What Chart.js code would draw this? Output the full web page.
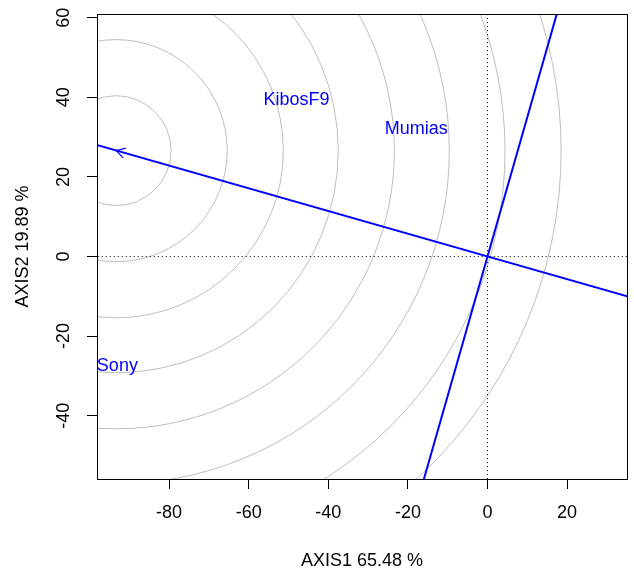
<!DOCTYPE html>
<html><head><meta charset="utf-8">
<script src="https://cdn.jsdelivr.net/npm/chart.js@4.4.0/dist/chart.umd.min.js"></script>
<style>html,body{margin:0;padding:0;background:#fff;}canvas{display:block;}</style>
</head><body>
<canvas id="c" width="634" height="570" style="width:634px;height:570px"></canvas>
<script>
// ---- data ----
const xTickValues = [-80, -60, -40, -20, 0, 20];
const yTickValues = [-40, -20, 0, 20, 40, 60];
const xTitle = 'AXIS1 65.48 %';
const yTitle = 'AXIS2 19.89 %';
const genotypeNames = ['KibosF9', 'Mumias', 'Sony'];
const genotypeX = [-48.0, -17.9, -93.0];
const genotypeY = [39.4, 32.1, -27.4];
const idealX = -93.3;
const idealY = 26.6;
const circleRadii = [13.8, 27.9, 42.0, 55.8, 69.9, 83.7, 97.7, 111.8];
const aeaX = [-110, 40];
const aeaY = [31.4, -11.4];
const ataX = [-20, 20];
const ataY = [-70, 70];
const zeroHX = [-110, 40], zeroHY = [0, 0];
const zeroVX = [0, 0], zeroVY = [-70, 70];

const pts = (xs, ys) => xs.map((x, i) => ({x, y: ys[i]}));
const FONT = "'Liberation Sans', Arial, Helvetica, sans-serif";
Chart.defaults.font.family = FONT;
Chart.defaults.font.size = 18;
Chart.defaults.color = '#000';

const biplotPlugin = {
  id: 'biplot',
  beforeDatasetsDraw(chart) {
    const {ctx, chartArea: a, scales: {x, y}} = chart;
    ctx.save();
    ctx.beginPath();
    ctx.rect(a.left, a.top, a.right - a.left, a.bottom - a.top);
    ctx.clip();
    ctx.strokeStyle = '#BEBEBE';
    ctx.lineWidth = 1;
    const cx = x.getPixelForValue(idealX), cy = y.getPixelForValue(idealY);
    circleRadii.forEach(r => {
      const rp = x.getPixelForValue(idealX + r) - cx;
      ctx.beginPath();
      ctx.arc(cx, cy, rp, 0, Math.PI * 2);
      ctx.stroke();
    });
    ctx.restore();
  },
  afterDatasetsDraw(chart) {
    const {ctx, chartArea: a, scales: {x, y}} = chart;
    ctx.save();
    // arrow head at ideal point
    const tx = x.getPixelForValue(idealX), ty = y.getPixelForValue(idealY);
    const ox = x.getPixelForValue(0), oy = y.getPixelForValue(0);
    const ang = Math.atan2(ty - oy, tx - ox);
    const L = 10, spread = Math.PI / 6;
    ctx.strokeStyle = '#0000FF';
    ctx.lineWidth = 1.2;
    ctx.beginPath();
    ctx.moveTo(tx - L * Math.cos(ang - spread), ty - L * Math.sin(ang - spread));
    ctx.lineTo(tx, ty);
    ctx.lineTo(tx - L * Math.cos(ang + spread), ty - L * Math.sin(ang + spread));
    ctx.stroke();
    // labels
    ctx.fillStyle = '#0000FF';
    ctx.font = '18px ' + FONT;
    ctx.textAlign = 'center';
    ctx.textBaseline = 'middle';
    genotypeNames.forEach((n, i) => {
      ctx.fillText(n, x.getPixelForValue(genotypeX[i]), y.getPixelForValue(genotypeY[i]));
    });
    ctx.restore();
  },
  afterDraw(chart) {
    const {ctx, chartArea: a} = chart;
    ctx.save();
    ctx.strokeStyle = '#000';
    ctx.lineWidth = 1;
    ctx.strokeRect(a.left + 0.5, a.top + 0.5, a.right - a.left, a.bottom - a.top);
    ctx.restore();
  }
};

new Chart(document.getElementById('c'), {
  type: 'scatter',
  data: {
    datasets: [
      {data: pts(aeaX, aeaY), showLine: true, borderColor: '#0000FF', borderWidth: 2, pointRadius: 0},
      {data: pts(ataX, ataY), showLine: true, borderColor: '#0000FF', borderWidth: 2, pointRadius: 0},
      {data: pts(zeroHX, zeroHY), showLine: true, borderColor: '#000', borderWidth: 1, borderDash: [1, 3], pointRadius: 0},
      {data: pts(zeroVX, zeroVY), showLine: true, borderColor: '#000', borderWidth: 1, borderDash: [1, 3], pointRadius: 0}
    ]
  },
  options: {
    responsive: false,
    animation: false,
    devicePixelRatio: 1,
    layout: {padding: {top: 14, right: 7, bottom: 0, left: 0}},
    plugins: {legend: {display: false}, tooltip: {enabled: false}},
    scales: {
      x: {
        type: 'linear', min: -98.12, max: 35.05,
        afterBuildTicks: s => { s.ticks = xTickValues.map(v => ({value: v})); },
        afterFit: s => { s.height = 91; s.paddingLeft = 0; s.paddingRight = 0; },
        grid: {drawOnChartArea: false, drawTicks: true, tickLength: 10, color: '#000', tickColor: '#000'},
        border: {display: false},
        ticks: {padding: 13, maxRotation: 0, minRotation: 0, color: '#000', font: {size: 18}},
        title: {display: true, text: xTitle, color: '#000', font: {size: 18, lineHeight: 1}, padding: {top: 0, bottom: 0}}
      },
      y: {
        type: 'linear', min: -55.9, max: 60.93,
        afterBuildTicks: s => { s.ticks = yTickValues.map(v => ({value: v})); },
        afterFit: s => { s.width = 97; s.paddingTop = 0; s.paddingBottom = 0; },
        grid: {drawOnChartArea: false, drawTicks: true, tickLength: 10, color: '#000', tickColor: '#000'},
        border: {display: false},
        ticks: {padding: 9.5, minRotation: 90, maxRotation: 90, crossAlign: 'center', color: '#000', font: {size: 18}},
        title: {display: true, text: yTitle, color: '#000', font: {size: 18, lineHeight: 1}, padding: {top: 14.5, bottom: 0}}
      }
    }
  },
  plugins: [biplotPlugin]
});
</script>
</body></html>
